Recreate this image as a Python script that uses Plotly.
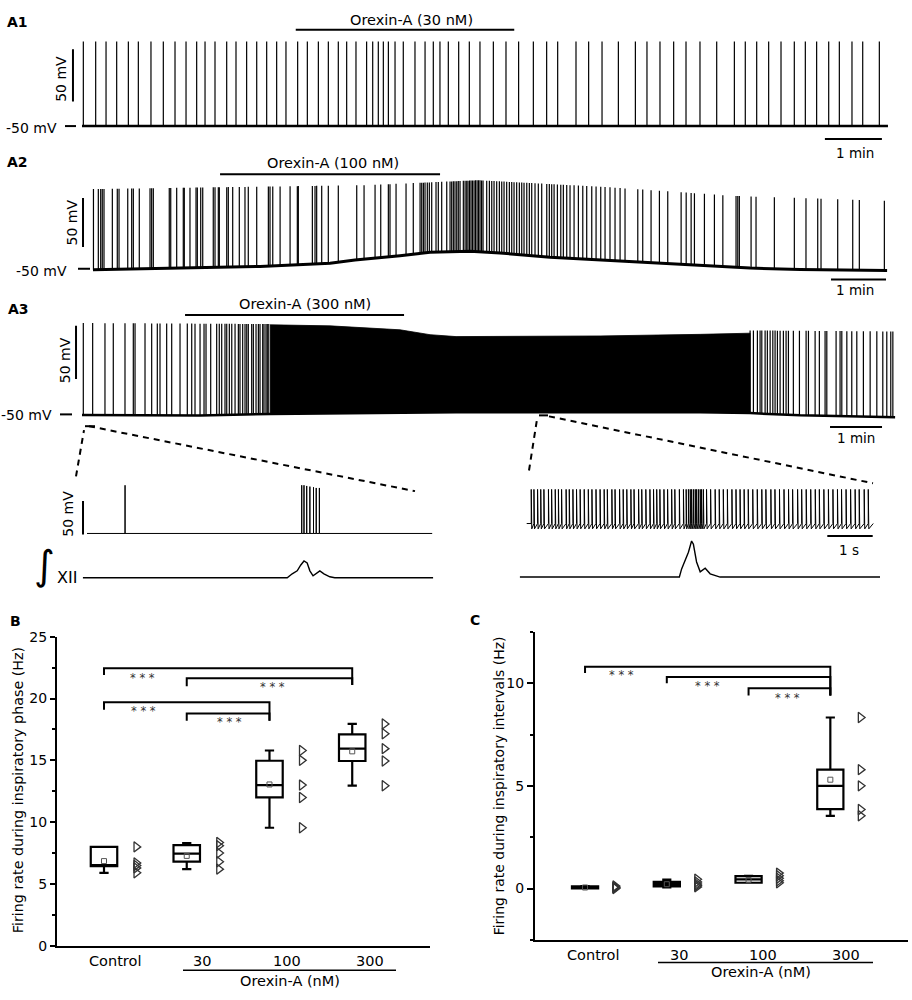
import numpy as np
import plotly.graph_objects as go

W, H = 912, 1000
FONT = "DejaVu Sans"
INK = "black"

# ---------------- A1: Orexin-A 30 nM (time s, Vm mV) ----------------
A1_SPIKES = [1.4, 14.4, 25.3, 36.5, 48.8, 59.3, 72.6, 85.6, 97.9, 109.5, 120.7, 129.5,
             140.0, 152.3, 162.1, 173.3, 183.9, 194.4, 204.9, 214.7, 227.0, 237.2, 248.8,
             259.3, 269.8, 278.6, 288.4, 299.6, 306.0, 311.9, 317.2, 322.5, 329.5, 338.2,
             350.5, 361.1, 369.8, 376.8, 385.6, 396.5, 407.7, 418.9, 433.0, 446.3, 459.6,
             475.1, 489.1, 500.7, 520.0, 533.3, 547.4, 564.6, 582.5, 594.7, 608.4, 622.8,
             635.8, 650.5, 668.1, 686.7, 698.2, 710.2, 722.8, 735.8, 749.8, 761.4, 773.3,
             786.0, 797.2, 810.5, 821.8, 839.3]
A1_BASE_T = [0, 848.4]
A1_BASE_V = [-50, -50]
A1_PEAK_T = [0, 848.4]
A1_PEAK_V = [31, 31]
A1_DRUG = [225, 455]

# ---------------- A2: Orexin-A 100 nM ----------------
A2_SPIKES = [0.5, 5.8, 8.4, 10.1, 12.0, 21.1, 26.5, 28.4, 37.9, 42.2, 44.0, 50.5, 62.2,
             64.0, 65.8, 83.2, 84.8, 91.3, 98.5, 99.6, 105.8, 112.4, 113.8, 117.5, 119.7,
             131.2, 133.1, 136.7, 137.8, 145.9, 147.6, 152.4, 159.6, 165.8, 169.4, 178.6,
             191.3, 193.1, 196.1, 204.1, 215.0, 222.9, 224.0, 239.3, 242.2, 244.0, 249.5,
             256.7, 267.6, 287.7, 295.7, 307.7, 313.9, 322.2, 324.0, 330.6, 341.5, 349.4,
             356.8, 358.6, 360.4, 362.2, 364.7, 366.9, 369.5, 374.2, 376.7, 380.4, 385.9,
             389.5, 391.3, 393.1, 394.9, 396.8, 398.5, 400.4, 404.0, 405.9, 407.7, 409.1,
             410.8, 412.4, 414.0, 415.7, 417.3, 419.0, 420.6, 422.2, 423.9, 425.5, 429.5,
             432.4, 435.0, 437.5, 440.4, 443.3, 445.9, 448.4, 451.3, 454.2, 456.8, 459.3,
             462.2, 465.1, 467.7, 470.2, 473.2, 476.0, 478.6, 482.2, 485.8, 489.5, 495.0,
             497.8, 500.4, 503.0, 506.6, 510.3, 513.1, 516.8, 520.4, 524.8, 529.5, 534.3,
             538.6, 544.1, 548.8, 553.9, 558.6, 564.0, 569.5, 575.0, 580.4, 594.3, 599.7,
             608.8, 617.9, 627.0, 641.6, 647.1, 652.5, 656.1, 667.0, 677.9, 687.1, 701.5,
             703.4, 705.1, 717.9, 723.3, 743.3, 765.1, 777.8, 790.6, 794.2, 812.4, 828.8,
             836.0, 863.3]
A2_BASE_T = [0, 116.7, 182.2, 258.6, 285.8, 334.9, 367.7, 411.3, 444.0, 498.6, 553.1,
             585.9, 607.7, 662.2, 716.8, 771.3, 866.3]
A2_BASE_V = [-51, -49.3, -47.7, -44.3, -41, -36.7, -33.3, -32.3, -34, -38.3, -41,
             -42.7, -43.3, -46.7, -49.3, -50.7, -51.7]
A2_PEAK_T = [0, 300, 420, 560, 700, 866.3]
A2_PEAK_V = [31, 35, 40, 33, 24, 19]
A2_DRUG = [138.6, 378.6]

# ---------------- A3: Orexin-A 300 nM ----------------
A3_SPIKES = [1.5, 12.3, 26.5, 36.1, 49.6, 59.2, 61.2, 72.7, 80.4, 86.9, 90.0, 97.7, 103.5,
             113.1, 121.5, 126.6, 130.4, 136.2, 140.8, 143.1, 148.5, 155.4, 158.4, 161.2,
             165.0, 167.0, 170.0, 172.8, 176.6, 180.4, 182.3, 185.4, 188.1, 190.1, 191.9,
             195.8, 197.7, 200.8, 203.5, 205.4, 208.5, 210.0, 212.3, 213.8, 215.5,
             770.9, 774.7, 779.3, 782.4, 784.4, 788.2, 790.8, 794.0, 797.1, 799.7, 802.4,
             805.5, 809.3, 812.4, 815.1, 820.8, 827.8, 835.5, 838.2, 845.9, 850.8, 857.4,
             859.4, 870.1, 874.7, 876.7, 882.5, 888.2, 894.0, 901.6, 909.4, 917.1, 924.0,
             928.6, 933.2, 935.6]
A3_BASE_T = [0, 136.2, 217, 367, 431.6, 713.2, 770.9, 828.6, 938.2]
A3_BASE_V = [-50.5, -51, -49.6, -48, -47.9, -47.9, -48.8, -50.9, -52.8]
A3_PEAK_T = [0, 217, 770.9, 938.2]
A3_PEAK_V = [36, 35, 29, 28]
# envelope of the sustained high-frequency firing
A3_BLOCK_T = [217, 286.2, 367, 401.6, 431.6, 597.8, 713.2, 770.9]
A3_BLOCK_TOP = [34.3, 33.3, 29.6, 25.0, 23.2, 23.8, 25.3, 26.4]
A3_DRUG = [118.9, 371.6]

# ---------------- expanded insets (s) ----------------
L_SPIKES = [0.84, 4.74, 4.79, 4.85, 4.92, 5.00, 5.06, 5.13]
L_PEAKS = [22, 22, 22, 21, 20, 19, 18, 18]
L_END = 7.62
L_XII_T = [-0.09, 4.42, 4.53, 4.64, 4.72, 4.79, 4.86, 4.92, 4.99, 5.08, 5.14, 5.23, 5.36, 5.47, 7.64]
L_XII_V = [0, 0, 4, 7, 13, 17, 15, 7, 2, 5, 7, 4, 1, 0, 0]

R_SPIKES = [0.10, 0.16, 0.24, 0.31, 0.38, 0.48, 0.55, 0.63, 0.70, 0.77, 0.87, 0.94, 1.02,
            1.10, 1.18, 1.27, 1.36, 1.44, 1.53, 1.62, 1.71, 1.78, 1.88, 1.95, 2.05, 2.13,
            2.21, 2.30, 2.37, 2.47, 2.54, 2.63, 2.72, 2.80, 2.87, 2.94, 3.03, 3.11, 3.20,
            3.27, 3.37, 3.46, 3.52, 3.57, 3.61, 3.64, 3.68, 3.72, 3.75, 3.79, 3.83, 3.86,
            3.90, 3.97, 4.06, 4.16, 4.25, 4.34, 4.43, 4.53, 4.62, 4.71, 4.80, 4.89, 4.99,
            5.09, 5.19, 5.28, 5.39, 5.48, 5.58, 5.68, 5.78, 5.87, 5.98, 6.07, 6.17, 6.27,
            6.37, 6.46, 6.56, 6.66, 6.76, 6.86, 6.95, 7.05, 7.15, 7.25, 7.34, 7.45, 7.54]
R_FOOT, R_TROUGH, R_PEAK = -45, -53, 6
R_END = 7.65
R_XII_T = [-0.15, 3.37, 3.42, 3.50, 3.57, 3.64, 3.68, 3.75, 3.83, 3.94, 4.05, 4.27, 7.80]
R_XII_V = [0, 0, 8.3, 18.3, 25.3, 36.6, 33.3, 15.3, 5.3, 9.0, 3.3, 0, 0]

# ---------------- B / C summary (Hz) ----------------
GROUPS = ["Control", "30", "100", "300"]
B_Q1 = [6.45, 6.8, 12.0, 14.95]
B_MED = [6.5, 7.46, 13.0, 15.95]
B_Q3 = [8.0, 8.15, 14.97, 17.1]
B_LO = [5.9, 6.2, 9.55, 12.95]
B_HI = [8.0, 8.3, 15.8, 17.95]
B_MEAN = [6.85, 7.27, 13.05, 15.73]
B_POINTS = [[8.0, 6.7, 6.5, 6.3, 5.9], [8.35, 8.1, 7.5, 6.8, 6.2],
            [15.8, 15.0, 13.0, 12.0, 9.55], [17.95, 17.15, 15.95, 14.95, 12.95]]
B_BRACKETS = [(0, 3, 22.45, 21.9, 21.1), (1, 3, 21.65, 21.0, 21.1),
              (0, 2, 19.7, 19.1, 18.2), (1, 2, 18.8, 18.2, 18.2)]
B_STARS = [(0.47, 21.7), (2.04, 20.9), (0.48, 19.0), (1.52, 18.1)]

C_Q1 = [0.0, 0.1, 0.28, 3.87]
C_MED = [0.05, 0.21, 0.45, 5.0]
C_Q3 = [0.1, 0.32, 0.6, 5.79]
C_LO = [0.0, 0.06, 0.28, 3.54]
C_HI = [0.12, 0.43, 0.62, 8.33]
C_MEAN = [0.05, 0.21, 0.42, 5.3]
C_POINTS = [[0.12, 0.08, 0.05, 0.03, 0.0], [0.45, 0.32, 0.22, 0.15, 0.08],
            [0.75, 0.62, 0.5, 0.38, 0.28], [8.33, 5.79, 5.0, 3.85, 3.54]]
C_BRACKETS = [(0, 3, 10.8, 10.5, 9.4), (1, 3, 10.3, 10.0, 9.4), (2, 3, 9.75, 9.4, 9.4)]
C_STARS = [(0.45, 10.4), (1.5, 9.85), (2.48, 9.3)]

fig = go.Figure()
axes = {}
shapes = []
notes = []


def ref(n):
    return ("x", "y") if n == 1 else (f"x{n}", f"y{n}")


def names(n):
    return ("xaxis", "yaxis") if n == 1 else (f"xaxis{n}", f"yaxis{n}")


def trace_panel(n, x0, k, ref_py, ref_v, vpp, top, bot):
    # invisible axes laid over the page so that 1 px maps to k s and vpp mV
    xn, yn = names(n)
    xr, yr = ref(n)
    axes[xn] = dict(domain=[0, 1], range=[-x0 * k, (W - x0) * k], visible=False, anchor=yr)
    axes[yn] = dict(domain=[1 - bot / H, 1 - top / H],
                    range=[ref_v - (bot - ref_py) * vpp, ref_v + (ref_py - top) * vpp],
                    visible=False, anchor=xr)


def line(n, x, y, width=1.2, color=INK, **kw):
    xr, yr = ref(n)
    fig.add_trace(go.Scatter(x=x, y=y, mode="lines", xaxis=xr, yaxis=yr,
                             line=dict(color=color, width=width),
                             hoverinfo="skip", showlegend=False, **kw))


def spikes(n, times, base_t, base_v, peak_t, peak_v, width=1.2):
    xs, ys = [], []
    for t in times:
        xs += [t, t, None]
        ys += [float(np.interp(t, base_t, base_v)), float(np.interp(t, peak_t, peak_v)), None]
    line(n, xs, ys, width)


def dseg(n, x0, y0, x1, y1, width=2):
    xr, yr = ref(n)
    shapes.append(dict(type="line", xref=xr, yref=yr, x0=x0, y0=y0, x1=x1, y1=y1,
                       line=dict(color=INK, width=width)))


def pseg(x0, y0, x1, y1, width=2, dash=None):
    shapes.append(dict(type="line", xref="paper", yref="paper",
                       x0=x0 / W, y0=1 - y0 / H, x1=x1 / W, y1=1 - y1 / H,
                       line=dict(color=INK, width=width, dash=dash)))


def text(s, x, y, size=14, anchor="center", angle=0, bold=False, color=INK):
    notes.append(dict(text=f"<b>{s}</b>" if bold else s, x=x / W, y=1 - y / H,
                      xref="paper", yref="paper", xanchor=anchor, yanchor="middle",
                      showarrow=False, textangle=angle,
                      font=dict(family=FONT, size=size, color=color)))


# ---- A1
trace_panel(1, 82, 60 / 57, 120, -50, 50 / 53, 5, 155)
line(1, A1_BASE_T, A1_BASE_V, 2.5)
spikes(1, A1_SPIKES, A1_BASE_T, A1_BASE_V, A1_PEAK_T, A1_PEAK_V)
dseg(1, A1_DRUG[0], 42.4, A1_DRUG[1], 42.4)
dseg(1, 782, -62.3, 842, -62.3)
dseg(1, -9.5, -26.4, -9.5, 23.6)
pseg(65, 120, 76, 120)
text("A1", 5, 14, 14, "left", bold=True)
text("Orexin-A (30 nM)", 411, 12, 14.5)
text("-50 mV", 59, 122, 14, "right")
text("50 mV", 61, 72, 14, angle=-90)
text("1 min", 855, 147, 13.5)

# ---- A2
trace_panel(2, 93, 60 / 55, 265, -50, 1.0, 150, 295)
line(2, A2_BASE_T, A2_BASE_V, 3)
spikes(2, A2_SPIKES, A2_BASE_T, A2_BASE_V, A2_PEAK_T, A2_PEAK_V)
dseg(2, A2_DRUG[0], 46, A2_DRUG[1], 46)
dseg(2, 805.1, -61, 865.1, -61)
dseg(2, -10.9, -28, -10.9, 22)
pseg(78, 265, 90, 265)
text("A2", 5, 157, 14, "left", bold=True)
text("Orexin-A (100 nM)", 333, 158, 14.5)
text("-50 mV", 69, 267, 14, "right")
text("50 mV", 72, 218, 14, angle=-90)
text("1 min", 855, 287, 13.5)

# ---- A3
trace_panel(3, 82, 60 / 52, 413, -50, 50 / 54, 295, 445)
line(3, A3_BASE_T, A3_BASE_V, 2.5)
block_base = [(t, v) for t, v in zip(A3_BASE_T, A3_BASE_V) if A3_BLOCK_T[0] <= t <= A3_BLOCK_T[-1]]
line(3, A3_BLOCK_T + [t for t, _ in block_base][::-1],
     A3_BLOCK_TOP + [v for _, v in block_base][::-1], 0.8, fill="toself", fillcolor=INK)
spikes(3, A3_SPIKES, A3_BASE_T, A3_BASE_V, A3_PEAK_T, A3_PEAK_V)
dseg(3, A3_DRUG[0], 43.5, A3_DRUG[1], 43.5)
dseg(3, 863.1, -61.8, 923.1, -61.8)
dseg(3, -6.9, -16.7, -6.9, 33.3)
pseg(60, 413, 72, 413)
text("A3", 6, 306, 14, "left", bold=True)
text("Orexin-A (300 nM)", 305, 301, 14.5)
text("-50 mV", 54, 414, 14, "right")
text("50 mV", 65, 358, 14, angle=-90)
text("1 min", 856, 437, 13.5)

# zoom marks and dashed guides
pseg(85, 425, 95, 425)
pseg(539, 414, 548, 414)
pseg(76, 476, 84, 429, 2, "6px,5px")
pseg(89, 425, 415, 491, 2, "6px,5px")
pseg(529, 470, 537, 418, 2, "6px,5px")
pseg(549, 415, 873, 483, 2, "6px,5px")

# ---- left inset
trace_panel(4, 87, 1 / 45.3, 534, -50, 50 / 34, 470, 545)
lx, ly = [0], [-50]
for t, p in zip(L_SPIKES, L_PEAKS):
    lx += [t, t, t]
    ly += [-50, p, -50]
lx.append(L_END)
ly.append(-50)
line(4, lx, ly, 1)
dseg(4, -0.088, -51.5, -0.088, -1.5)
text("50 mV", 68, 514, 14, angle=-90)

trace_panel(5, 87, 1 / 45.3, 579, 0, 1.0, 548, 595)
line(5, L_XII_T, L_XII_V, 1.4)
text("\u222b", 44, 566, 40)
text("XII", 67, 579, 16)

# ---- right inset
trace_panel(6, 526.7, 1 / 45.3, 527.3, -50, 50 / 34, 470, 545)
rx, ry = [0], [R_FOOT]
for t in R_SPIKES:
    rx += [t, t, t + 0.012]
    ry += [R_FOOT, R_PEAK, R_TROUGH]
rx.append(R_END)
ry.append(R_FOOT)
line(6, rx, ry, 1)
dseg(6, 6.636, -63.8, 7.638, -63.8)
text("1 s", 849, 551, 13.5)

trace_panel(7, 526.7, 1 / 45.3, 578.3, 0, 1.0, 535, 595)
line(7, R_XII_T, R_XII_V, 1.4)


# ---- B and C summary panels
def stats_panel(n, x0px, x1px, top, bot, xrange, yrange, q1, med, q3, lo, hi, mean,
                points, brackets, stars, pt_off, ticklen):
    xn, yn = names(n)
    xr, yr = ref(n)
    axes[xn] = dict(domain=[x0px / W, x1px / W], range=xrange, showline=True, linewidth=2,
                    linecolor=INK, ticks="", showticklabels=False, showgrid=False,
                    zeroline=False, anchor=yr)
    axes[yn] = dict(domain=[1 - bot / H, 1 - top / H], range=yrange, showline=True,
                    linewidth=2, linecolor=INK, ticks="outside", ticklen=ticklen,
                    tickwidth=1.5, tickcolor=INK, tick0=0, dtick=5,
                    minor=dict(ticks="outside", ticklen=3, tickwidth=1.5, tickcolor=INK,
                               tick0=0, dtick=2.5),
                    tickfont=dict(family=FONT, size=14, color=INK),
                    showgrid=False, zeroline=False, anchor=xr)
    pos = list(range(len(GROUPS)))
    fig.add_trace(go.Box(x=pos, q1=q1, median=med, q3=q3, lowerfence=lo, upperfence=hi,
                         width=0.32, whiskerwidth=0.35, fillcolor="white",
                         line=dict(color=INK, width=2.2), boxpoints=False,
                         xaxis=xr, yaxis=yr, showlegend=False, hoverinfo="skip"))
    fig.add_trace(go.Scatter(x=pos, y=mean, mode="markers", xaxis=xr, yaxis=yr,
                             marker=dict(symbol="square-open", size=5, color="#555",
                                         line=dict(width=1)),
                             showlegend=False, hoverinfo="skip"))
    for i, vals in enumerate(points):
        fig.add_trace(go.Scatter(x=[i + pt_off] * len(vals), y=vals, mode="markers",
                                 xaxis=xr, yaxis=yr,
                                 marker=dict(symbol="triangle-right-open", size=9,
                                             color="#333", line=dict(width=1.3)),
                                 showlegend=False, hoverinfo="skip"))
    for i, j, ytop, yl, yrt in brackets:
        line(n, [i, i, j, j], [yl, ytop, ytop, yrt], 2)
    for sx, sy in stars:
        notes.append(dict(text="* * *", x=sx, y=sy, xref=xr, yref=yr, showarrow=False,
                          font=dict(family=FONT, size=11.5, color="#333")))


stats_panel(8, 57, 430, 639, 953, [-0.568, 3.94], [0, 25], B_Q1, B_MED, B_Q3, B_LO, B_HI,
            B_MEAN, B_POINTS, B_BRACKETS, B_STARS, 0.39, 5)
for g, x in zip(GROUPS, [115, 202, 287, 370]):
    text(g, x, 969, 14.5)
pseg(183, 978, 396, 978, 1.5)
text("Orexin-A (nM)", 290, 989, 14.5)
text("Firing rate during inspiratory phase (Hz)", 18, 795, 14.3, angle=-90)
text("B", 8, 623, 14, "left", bold=True)

stats_panel(9, 535, 908, 634, 947, [-0.612, 3.95], [-2.5, 12.5], C_Q1, C_MED, C_Q3, C_LO,
            C_HI, C_MEAN, C_POINTS, C_BRACKETS, C_STARS, 0.37, 6)
for g, x in zip(GROUPS, [593, 679, 763, 846]):
    text(g, x, 962, 14.5)
pseg(658, 970, 873, 970, 1.5)
text("Orexin-A (nM)", 761, 980, 14.5)
text("Firing rate during inspiratory intervals (Hz)", 499, 791, 14, angle=-90)
text("C", 468, 622, 14, "left", bold=True)

fig.update_layout(width=W, height=H, margin=dict(l=0, r=0, t=0, b=0),
                  paper_bgcolor="white", plot_bgcolor="rgba(0,0,0,0)",
                  shapes=shapes, annotations=notes, showlegend=False,
                  font=dict(family=FONT, color=INK), **axes)

fig.write_html("out.html", config={"displayModeBar": False},
               post_script="document.body.style.margin='0';"
                           "document.body.style.overflow='hidden';")
